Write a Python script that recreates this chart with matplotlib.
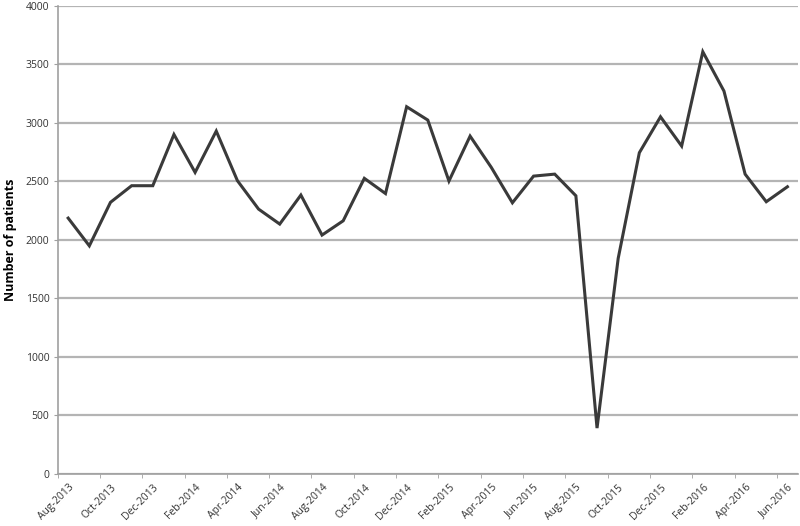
import numpy as np
import matplotlib
matplotlib.use("Agg")
from matplotlib import pyplot as plt
from matplotlib.ticker import FixedLocator

# monthly patient counts, Aug-2013 .. Jun-2016
months = ["Aug-2013", "Sep-2013", "Oct-2013", "Nov-2013", "Dec-2013",
          "Jan-2014", "Feb-2014", "Mar-2014", "Apr-2014", "May-2014", "Jun-2014", "Jul-2014",
          "Aug-2014", "Sep-2014", "Oct-2014", "Nov-2014", "Dec-2014",
          "Jan-2015", "Feb-2015", "Mar-2015", "Apr-2015", "May-2015", "Jun-2015", "Jul-2015",
          "Aug-2015", "Sep-2015", "Oct-2015", "Nov-2015", "Dec-2015",
          "Jan-2016", "Feb-2016", "Mar-2016", "Apr-2016", "May-2016", "Jun-2016"]
patients = [2185, 1948, 2320, 2462, 2462,
            2900, 2576, 2929, 2505, 2262, 2134, 2382,
            2040, 2162, 2525, 2395, 3137,
            3023, 2502, 2886, 2619, 2316, 2544, 2561,
            2376, 390, 1841, 2744, 3051,
            2801, 3607, 3271, 2561, 2325, 2453]
y_ticks = [0, 500, 1000, 1500, 2000, 2500, 3000, 3500, 4000]

plt.rcParams['font.family'] = ['Open Sans', 'DejaVu Sans']

fig = plt.figure(figsize=(8, 5.26), dpi=100)
ax = fig.add_axes([0.072, 0.0994, 0.9255, 0.8896])

x = np.arange(len(months))
ax.plot(x, patients, color="#3a3a3a", linewidth=2.2, solid_joinstyle="miter", zorder=3)

ax.set_xlim(-0.5, len(months) - 0.5)
ax.set_ylim(0, 4000)
ax.set_yticks(y_ticks)
ax.set_yticklabels([str(v) for v in y_ticks], fontsize=7.5, color="#333333")
ax.yaxis.grid(True, color="#b4b4b4", linewidth=1.6)
ax.set_axisbelow(True)
ax.tick_params(axis="y", length=3, color="#a0a0a0", pad=3)

# labels every 2nd month, tick marks at category boundaries
lab_idx = x[::2]
ax.set_xticks(lab_idx)
ax.set_xticklabels([months[i] for i in lab_idx], rotation=45, ha="right",
                   rotation_mode="anchor", fontsize=7.5, color="#333333")
ax.tick_params(axis="x", which="major", length=0, pad=6)
ax.xaxis.set_minor_locator(FixedLocator(np.arange(-0.5, len(months), 2)))
ax.tick_params(axis="x", which="minor", length=3, color="#a0a0a0")

for s in ["top", "right"]:
    ax.spines[s].set_visible(False)
for s in ["left", "bottom"]:
    ax.spines[s].set_color("#a0a0a0")
    ax.spines[s].set_linewidth(1.2)

ax.set_ylabel("Number of patients", fontsize=9, fontweight="bold", labelpad=6)

fig.savefig("out.png", dpi=100)
